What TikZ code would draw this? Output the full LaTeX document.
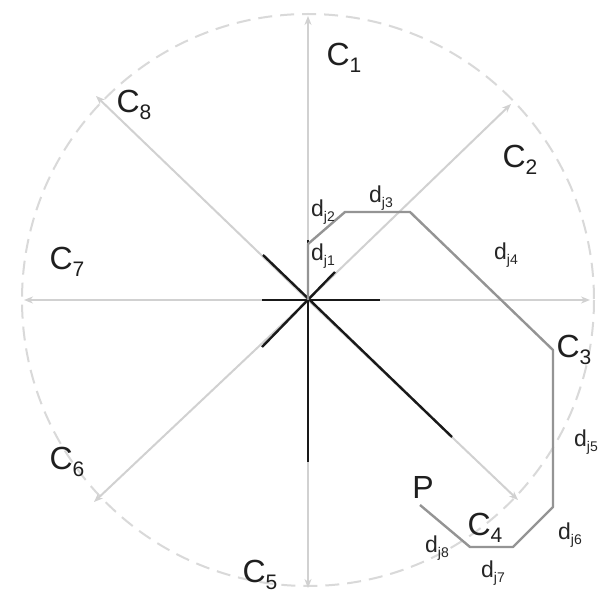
\documentclass[tikz,border=0pt]{standalone}
\usepackage{fontspec}
\setmainfont{Liberation Sans}
\usetikzlibrary{arrows.meta}
\newcommand\bigC[1]{\fontsize{32}{34}\selectfont C\raisebox{-0.45ex}{\fontsize{21}{22}\selectfont #1}}
\newcommand\smalld[1]{\fontsize{23}{25}\selectfont d\raisebox{-0.4ex}{\fontsize{14}{15}\selectfont j#1}}
\begin{document}
\begin{tikzpicture}[x=1pt,y=-1pt,
  ring/.style={draw=black!15,line width=2pt,dash pattern=on 14pt off 8pt},
  ray/.style={draw=black!18,line width=2pt,-{Stealth[length=9pt,width=7pt]}},
  star/.style={draw=black!90,line width=2.4pt},
  route/.style={draw=black!42,line width=2.4pt,line join=round},
  clab/.style={text=black!88,inner sep=0pt},
  dlab/.style={text=black!85,inner sep=0pt}]
\useasboundingbox (0,0) rectangle (598,596);
\fill[white] (0,0) rectangle (598,596);
\coordinate (O) at (308,300);
% dashed circle
\draw[ring] (O) circle[radius=286];
% direction rays
\coordinate (e1) at (308,16);
\coordinate (e2) at (511,104);
\coordinate (e3) at (590,300);
\coordinate (e4) at (518,500);
\coordinate (e5) at (308,588);
\coordinate (e6) at (94,502);
\coordinate (e7) at (24,300);
\coordinate (e8) at (96,96);
\foreach \i in {1,...,8} \draw[ray] (O) -- (e\i);
% black star
\coordinate (s1) at (308,240);
\coordinate (s2) at (335,272);
\coordinate (s3) at (380,300);
\coordinate (s4) at (452,437);
\coordinate (s5) at (308,462);
\coordinate (s6) at (262,347);
\coordinate (s7) at (262,300);
\coordinate (s8) at (263,255);
\draw[star] (s1) -- (s5);
\draw[star] (s7) -- (s3);
\draw[star] (s8) -- (s4);
\draw[star] (s6) -- (s2);
% route
\coordinate (p1) at (308,244);
\coordinate (p2) at (345,212);
\coordinate (p3) at (410,212);
\coordinate (p4) at (553,350);
\coordinate (p5) at (553,507);
\coordinate (p6) at (513,547);
\coordinate (p7) at (470,547);
\coordinate (p8) at (420,505);
\draw[route] (O) -- (p1) -- (p2) -- (p3) -- (p4) -- (p5) -- (p6) -- (p7) -- (p8);
% labels
\node[clab] (C1) at (344,58) {\bigC{1}};
\node[clab] (C2) at (520,160) {\bigC{2}};
\node[clab] (C3) at (574,350) {\bigC{3}};
\node[clab] (C4) at (485,528) {\bigC{4}};
\node[clab] (C5) at (260,575) {\bigC{5}};
\node[clab] (C6) at (67,462) {\bigC{6}};
\node[clab] (C7) at (67,262) {\bigC{7}};
\node[clab] (C8) at (134,105) {\bigC{8}};
\node[clab] (P) at (423,487) {\fontsize{32}{34}\selectfont P};
\node[dlab] (d1) at (323,256) {\smalld{1}};
\node[dlab] (d2) at (323,212) {\smalld{2}};
\node[dlab] (d3) at (381,198) {\smalld{3}};
\node[dlab] (d4) at (506,255) {\smalld{4}};
\node[dlab] (d5) at (586,442) {\smalld{5}};
\node[dlab] (d6) at (570,535) {\smalld{6}};
\node[dlab] (d7) at (493,573) {\smalld{7}};
\node[dlab] (d8) at (437,548) {\smalld{8}};
\end{tikzpicture}
\end{document}
